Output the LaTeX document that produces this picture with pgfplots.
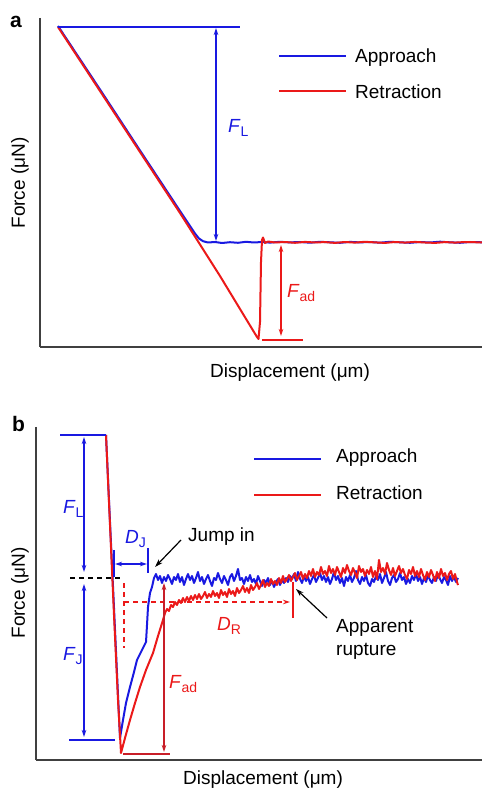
\documentclass[border=0pt]{standalone}
\usepackage{pgfplots}
\pgfplotsset{compat=1.18}
\usetikzlibrary{arrows.meta}
\usepackage{fontspec}
\setmainfont{Liberation Sans}
\definecolor{cblue}{RGB}{25,25,225}
\definecolor{cred}{RGB}{235,25,25}
\definecolor{dred}{RGB}{200,30,40}
\newcommand{\Fs}[2]{\textit{#1}\raisebox{-4pt}{\fontsize{14}{14}\selectfont #2}}
\begin{document}
\begin{tikzpicture}[
  lab/.style={font=\fontsize{19}{23}\selectfont, inner sep=0pt},
  ttl/.style={font=\fontsize{21}{24}\selectfont\bfseries, inner sep=0pt},
  arr/.style={{Stealth[length=7pt,width=4.5pt]}-{Stealth[length=7pt,width=4.5pt]}, line width=1.2pt},
  sarr/.style={-{Stealth[length=8pt,width=5pt]}, line width=1.2pt}]
\useasboundingbox (0pt,0pt) rectangle (482pt,790pt);
\pgfplotsset{
 panel/.style={scale only axis, axis x line=bottom, axis y line=left,
   axis line style={-, black!75, line width=1.1pt}, xtick=\empty, ytick=\empty,
   y dir=reverse, clip=false, anchor=south west},
 dat/.style={line width=2pt, mark=none, line join=round},
}
% ---------------- panel a ----------------
\begin{axis}[panel, at={(40pt,443pt)}, width=442pt, height=329pt, xmin=40, xmax=482, ymin=18, ymax=347]
\addplot[dat, cblue] coordinates {
(58,26) (100,89.5) (140,150.5) (180,211) (186,220) (190,226) (195,233.5) (199,238.5) (203,241.2) (208,242.5)
(215,242) (222,243) (230,242.2) (238,242.8) (246,241.8) (254,242.5) (262,242) (270,242.6) (280,241.8)
(290,242.4) (300,242) (310,242.7) (320,241.8) (330,242.3) (340,242.8) (350,241.9) (360,242.4) (370,242)
(380,242.7) (390,241.8) (400,242.3) (410,242.8) (420,242) (430,242.5) (440,241.7) (450,242.3) (460,242.8) (470,242) (482,242.3)
};
\addplot[dat, cred] coordinates {
(58,27) (100,91) (140,152) (180,213) (220,276) (257,337) (258.5,339) (260,322) (261,262) (262,240) (263,237.5) (265,243)
(268,241.5) (275,242.5) (285,242) (295,242.8) (305,241.9) (315,242.5) (325,242.1) (335,242.9) (345,242) (355,242.6)
(365,241.8) (375,242.4) (385,242.9) (395,242) (405,242.6) (415,241.9) (425,242.5) (435,242.9) (445,242.1) (455,242.6) (465,242) (482,242.4)
};
% annotations
\draw[cblue, line width=1.3pt] (axis cs:58,27) -- (axis cs:240,27);
\draw[cblue, arr] (axis cs:216,28) -- (axis cs:216,241);
\draw[cred, line width=1.3pt] (axis cs:262,340) -- (axis cs:303,340);
\draw[cred, arr] (axis cs:281,245) -- (axis cs:281,336);
\node[lab, cblue, anchor=base west] at (axis cs:228,133) {\Fs{F}{L}};
\node[lab, cred, anchor=base west] at (axis cs:287,298) {\Fs{F}{ad}};
% legend
\draw[cblue, line width=1.6pt] (axis cs:279,56) -- (axis cs:346,56);
\draw[cred, line width=1.6pt] (axis cs:279,91) -- (axis cs:346,91);
\node[lab, anchor=base west] at (axis cs:355,63) {Approach};
\node[lab, anchor=base west] at (axis cs:355,99) {Retraction};
% labels
\node[ttl, anchor=base west] at (axis cs:10,28) {a};
\node[lab, rotate=90, anchor=center] at (axis cs:20,183) {Force (μN)};
\node[lab, anchor=center] at (axis cs:290,373) {Displacement (μm)};
\end{axis}
% ---------------- panel b ----------------
\begin{axis}[panel, at={(36pt,30pt)}, width=446pt, height=333pt, xmin=36, xmax=482, ymin=427, ymax=760]
\addplot[dat, cblue] coordinates {
(106,435) (110,522) (114,608) (118,695) (120,738) (123,720) (126,703) (130,687) (134,672) (137,660) (142,650)
(146,642) (147,625) (148,607) (150,593) (152,587)
(154,578) (156,574) (158,580) (160,576) (162,583) (164,577) (166,581) (168,575) (170,579) (172,584)
(174,577) (176,580) (178,574) (180,582) (182,577) (184,585) (186,579) (188,574) (190,580) (192,576)
(194,583) (196,578) (198,572) (200,581) (202,577) (204,584) (206,579) (208,575) (210,581) (212,586)
(214,578) (216,580) (218,573) (220,579) (222,583) (224,576) (226,580) (228,585) (230,577) (232,574)
(234,581) (236,576) (238,569) (240,580) (242,578) (244,584) (246,577) (248,581) (250,575) (252,582)
(254,579) (256,584) (258,576) (260,581) (262,586) (264,580) (266,583) (268,578) (270,585) (272,581)
(274,587) (276,582) (278,579) (280,585) (282,580) (284,583) (286,578) (288,582) (290,576) (292,579)
(294,574) (296,581) (298,572) (300,579) (302,583) (304,576) (306,581) (308,577) (310,584) (312,579)
(314,575) (316,582) (318,578) (320,573) (322,580) (324,576) (326,582) (328,577) (330,584) (332,579)
(334,572) (336,580) (338,576) (340,583) (342,578) (344,586) (346,577) (348,581) (350,575) (352,582)
(354,578) (356,571) (358,580) (360,584) (362,577) (364,581) (366,575) (368,583) (370,586) (372,579)
(374,582) (376,576) (378,580) (380,574) (382,583) (384,578) (386,572) (388,581) (390,585) (392,578)
(394,575) (396,582) (398,579) (400,573) (402,580) (404,577) (406,584) (408,579) (410,583) (412,576)
(414,580) (416,574) (418,581) (420,577) (422,584) (424,578) (426,582) (428,575) (430,580) (432,583)
(434,577) (436,581) (438,574) (440,579) (442,583) (444,577) (446,580) (448,585) (450,576) (452,581)
(454,577) (456,582) (458,578)
};
\addplot[dat, cred] coordinates {
(106,435) (110,525) (114,615) (118,700) (121,753) (125,738) (130,720) (135,703) (140,687) (146,670)
(153,653) (158,636) (163,620)
(165,613) (167,609) (169,611) (171,605) (173,607) (175,602) (177,605) (179,600) (181,603) (183,598)
(185,602) (187,597) (189,601) (191,596) (193,600) (195,595) (197,599) (199,594) (201,599) (203,596)
(205,592) (207,598) (209,594) (211,597) (213,591) (215,596) (217,593) (219,598) (221,590) (223,595)
(225,592) (227,597) (229,589) (231,594) (233,591) (235,596) (237,588) (239,593) (241,590) (243,586)
(245,592) (247,588) (249,593) (251,585) (253,590) (255,587) (257,583) (259,589) (261,585) (263,580)
(265,587) (267,583) (269,586) (271,579) (273,584) (275,581) (277,585) (279,578) (281,583) (283,576)
(285,582) (287,579) (289,575) (291,581) (293,577) (295,573) (297,580) (299,576) (301,572) (303,579)
(305,574) (307,578) (309,571) (311,576) (313,569) (315,577) (317,572) (319,575) (321,567) (323,574)
(325,571) (327,576) (329,566) (331,573) (333,569) (335,575) (337,567) (339,572) (341,577) (343,568)
(345,573) (347,565) (349,571) (351,575) (353,568) (355,573) (357,578) (359,566) (361,572) (363,569)
(365,576) (367,570) (369,574) (371,567) (373,577) (375,571) (377,579) (379,560) (381,572) (383,568)
(385,574) (387,563) (389,570) (391,575) (393,568) (395,576) (397,571) (399,566) (401,573) (403,569)
(405,575) (407,579) (409,570) (411,574) (413,567) (415,576) (417,571) (419,577) (421,569) (423,575)
(425,580) (427,572) (429,577) (431,570) (433,575) (435,581) (437,572) (439,578) (441,569) (443,576)
(445,573) (447,580) (449,574) (451,571) (453,579) (455,574) (457,582) (458,585)
};
% annotations
\draw[cblue, line width=1.3pt] (axis cs:60,435) -- (axis cs:106,435);
\draw[cblue, line width=1.3pt] (axis cs:69,740) -- (axis cs:115,740);
\draw[cblue, arr] (axis cs:84,437) -- (axis cs:84,572);
\draw[cblue, arr] (axis cs:84,584) -- (axis cs:84,737);
\draw[black, line width=1.1pt, dash pattern=on 5pt off 4pt] (axis cs:70,578) -- (axis cs:120,578);
\draw[cblue, line width=1.2pt] (axis cs:114,550) -- (axis cs:114,577);
\draw[cblue, line width=1.2pt] (axis cs:148,548) -- (axis cs:148,573);
\draw[cblue, arr] (axis cs:115,564) -- (axis cs:147,564);
\draw[cred, line width=1.2pt, dash pattern=on 5pt off 4pt] (axis cs:124,583) -- (axis cs:124,648);
\draw[cred, line width=1.2pt, dash pattern=on 5pt off 4pt, -{Stealth[length=7pt,width=4.5pt]}] (axis cs:124,602) -- (axis cs:290,602);
\draw[cred, line width=1.2pt] (axis cs:293,582) -- (axis cs:293,618);
\draw[dred, arr] (axis cs:164,583) -- (axis cs:164,752);
\draw[dred, line width=1.3pt] (axis cs:123,754) -- (axis cs:170,754);
\draw[black, sarr] (axis cs:181,540) -- (axis cs:155,567);
\draw[black, sarr] (axis cs:327,618) -- (axis cs:296,589);
\node[lab, cblue, anchor=base west] at (axis cs:63,513) {\Fs{F}{L}};
\node[lab, cblue, anchor=base west] at (axis cs:63,660) {\Fs{F}{J}};
\node[lab, cblue, anchor=base west] at (axis cs:125,543) {\Fs{D}{J}};
\node[lab, cred, anchor=base west] at (axis cs:217,630) {\Fs{D}{R}};
\node[lab, cred, anchor=base west] at (axis cs:169,688) {\Fs{F}{ad}};
\node[lab, anchor=base west] at (axis cs:188,541) {Jump in};
\node[lab, anchor=base west] at (axis cs:336,632) {Apparent};
\node[lab, anchor=base west] at (axis cs:336,655) {rupture};
% legend
\draw[cblue, line width=1.6pt] (axis cs:254,459) -- (axis cs:321,459);
\draw[cred, line width=1.6pt] (axis cs:254,495) -- (axis cs:321,495);
\node[lab, anchor=base west] at (axis cs:336,463) {Approach};
\node[lab, anchor=base west] at (axis cs:336,499) {Retraction};
% labels
\node[ttl, anchor=base west] at (axis cs:12,432) {b};
\node[lab, rotate=90, anchor=center] at (axis cs:20,593) {Force (μN)};
\node[lab, anchor=center] at (axis cs:263,780) {Displacement (μm)};
\end{axis}
\end{tikzpicture}
\end{document}
